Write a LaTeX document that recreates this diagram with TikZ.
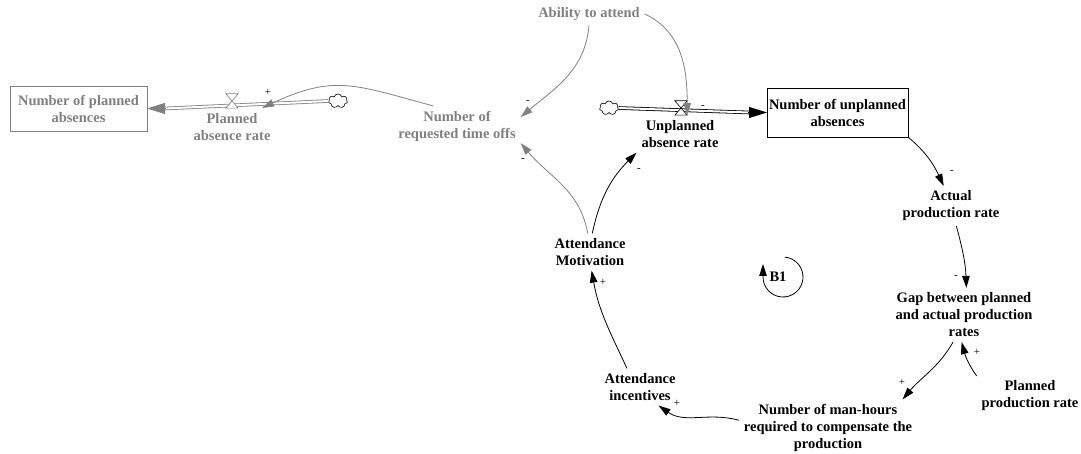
\documentclass[tikz,border=0pt]{standalone}
\usepackage{fontspec}
\setmainfont{Liberation Serif}
\usetikzlibrary{calc, positioning}
\usetikzlibrary{arrows.meta}
\usetikzlibrary{shapes.symbols}
\definecolor{aux}{gray}{0.5}

\tikzset{
  var/.style={font=\fontsize{14.5}{17}\selectfont\bfseries, align=center, inner sep=1pt, outer sep=4pt},
  auxvar/.style={var, text=aux},
  stock/.style={var, draw, line width=0.8pt, inner sep=0pt, outer sep=0pt},
  link/.style={line width=0.8pt, -{Triangle[length=12pt,width=7.5pt]}},
  auxlink/.style={link, color=aux},
  sign/.style={font=\fontsize{11}{12}\selectfont, inner sep=0pt},
  pipe/.style={double, double distance=2pt, line width=0.8pt},
  flowhead/.style={line width=0.8pt, -{Triangle[length=18pt,width=11pt]}},
  valvebox/.style={inner sep=0pt, minimum width=12pt, minimum height=14pt},
  sky/.style={cloud, cloud puffs=7, draw, line width=0.6pt, inner sep=0pt, minimum width=19pt, minimum height=14pt, aspect=1.4}
}

\begin{document}
\begin{tikzpicture}[x=1pt, y=1pt]
\useasboundingbox (0,0) rectangle (1081,-454);

\node[stock, draw=aux, text=aux, minimum width=137pt, minimum height=45pt] (planned) at (78.5,-108.5) {Number of planned\\absences};
\node[stock, minimum width=141pt, minimum height=49pt] (unplanned) at (837.5,-112.5) {Number of unplanned\\absences};

\node[auxvar] (prate) at (232,-127) {Planned\\absence rate};
\node[auxvar] (requested) at (457,-126) {Number of\\requested time offs};
\node[auxvar] (ability) at (589,-14) {Ability to attend};
\node[var] (urate) at (680,-134) {Unplanned\\absence rate};
\node[var] (actual) at (951,-206) {Actual\\production rate};
\node[var] (gap) at (964,-315) {Gap between planned\\and actual production\\rates};
\node[var] (pprod) at (1030,-396) {Planned\\production rate};
\node[var] (manhours) at (828,-428) {Number of man-hours\\required to compensate the\\production};
\node[var] (incent) at (640,-387) {Attendance\\incentives};
\node[var] (motiv) at (590,-252) {Attendance\\Motivation};
\node[var] (loopB) at (778,-277) {B1};

\node[valvebox] (pvalve) at (232,-101) {};
\node[valvebox] (uvalve) at (681,-108) {};
\node[sky] (pcloud) at (338,-101) {};
\node[sky] (ucloud) at (609,-108) {};
\coordinate (pflow) at (262,-108);

\draw[pipe, aux] (pcloud.west) -- ($(planned.east)+(18,0)$);
\draw[flowhead, aux] ($(planned.east)+(19,0)$) -- (planned.east);
\draw[pipe] (ucloud.east) -- ($(unplanned.west)+(-18,0)$);
\draw[flowhead] ($(unplanned.west)+(-19,0)$) -- (unplanned.west);

\draw[fill=white, line width=0.6pt, draw=aux] (pvalve.north west) -- (pvalve.north east) -- (pvalve.south west) -- (pvalve.south east) -- cycle;
\draw[fill=white, line width=0.6pt] (uvalve.north west) -- (uvalve.north east) -- (uvalve.south west) -- (uvalve.south east) -- cycle;

\draw[auxlink] (requested.140) to[out=165, in=25, looseness=1.2] (pflow);
\draw[auxlink] (ability.south) to[out=-95, in=40] (requested.8);
\draw[auxlink] (ability.east) to[out=-25, in=90] (uvalve.south east);
\draw[auxlink] (motiv.97) to[out=100, in=-50] (requested.-15);
\draw[link] (motiv.83) to[out=78, in=-135] (urate.south west);
\draw[link] (unplanned.south east) to[out=-40, in=115] (actual.110);
\draw[link] (actual.-75) to[out=-75, in=92] (gap.85);
\draw[link] (gap.-112) to[out=-120, in=50] (manhours.21);
\draw[link] (pprod.north west) to[out=125, in=-75] (gap.-95);
\draw[link] (manhours.175) to[out=165, in=-35] (incent.-45);
\draw[link] (incent.125) to[out=115, in=-80] (motiv.-85);

\draw[link] ([xshift=5pt]loopB.center) ++(85:20) arc[start angle=85, end angle=-180, radius=20] -- ++(0,13);

\node[sign] (s1) at (268,-92) {+};
\node[sign] (s2) at (528,-102) {-};
\node[sign] (s3) at (703,-107) {-};
\node[sign] (s4) at (523,-160) {-};
\node[sign] (s5) at (639,-170) {-};
\node[sign] (s6) at (952,-172) {-};
\node[sign] (s7) at (956,-277) {-};
\node[sign] (s8) at (977,-352) {+};
\node[sign] (s9) at (902,-382) {+};
\node[sign] (s10) at (677,-403) {+};
\node[sign] (s11) at (603,-282) {+};
\end{tikzpicture}
\end{document}
